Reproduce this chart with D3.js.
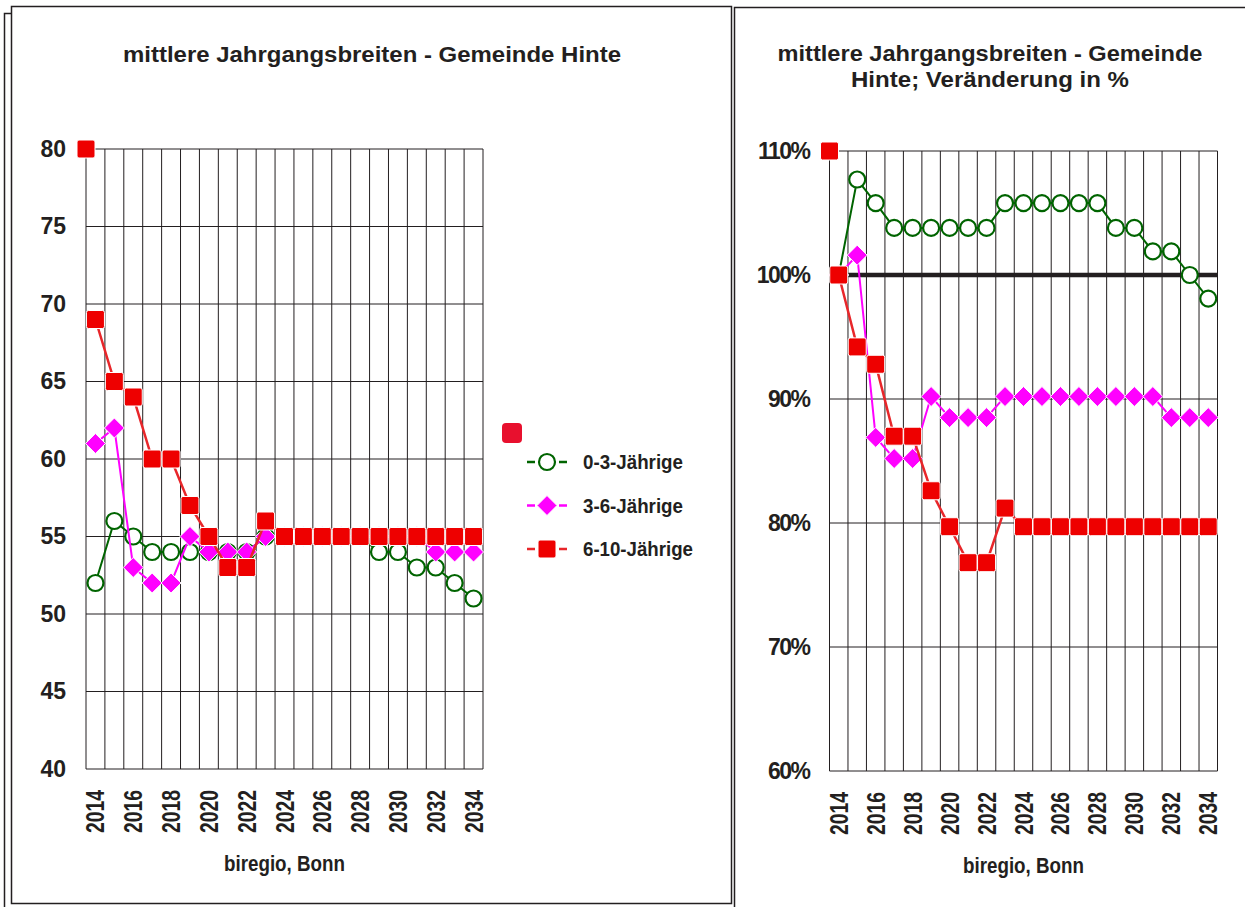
<!DOCTYPE html>
<html>
<head>
<meta charset="utf-8">
<script src="https://cdn.jsdelivr.net/npm/d3@7"></script>
<style>
  body { margin: 0; background: #fff; }
  svg text { font-family: "Liberation Sans", Arial, sans-serif; font-weight: bold; fill: #231f20; }
</style>
</head>
<body>
<svg id="chart" width="1245" height="907"></svg>
<script>
// Jahre (Kategorien)
const years = [2014, 2015, 2016, 2017, 2018, 2019, 2020, 2021, 2022, 2023, 2024,
               2025, 2026, 2027, 2028, 2029, 2030, 2031, 2032, 2033, 2034];
const yearLabels = [2014, 2016, 2018, 2020, 2022, 2024, 2026, 2028, 2030, 2032, 2034];

// mittlere Jahrgangsbreiten (Personen je Jahrgang)
const age0to3  = [52, 56, 55, 54, 54, 54, 54, 54, 54, 55, 55, 55, 55, 55, 55, 54, 54, 53, 53, 52, 51];
const age3to6  = [61, 62, 53, 52, 52, 55, 54, 54, 54, 55, 55, 55, 55, 55, 55, 55, 55, 55, 54, 54, 54];
const age6to10 = [69, 65, 64, 60, 60, 57, 55, 53, 53, 56, 55, 55, 55, 55, 55, 55, 55, 55, 55, 55, 55];

// Veränderung gegenüber 2014 in %
const pct0to3  = [100, 107.7, 105.8, 103.8, 103.8, 103.8, 103.8, 103.8, 103.8, 105.8, 105.8,
                  105.8, 105.8, 105.8, 105.8, 103.8, 103.8, 101.9, 101.9, 100, 98.1];
const pct3to6  = [100, 101.6, 86.9, 85.2, 85.2, 90.2, 88.5, 88.5, 88.5, 90.2, 90.2,
                  90.2, 90.2, 90.2, 90.2, 90.2, 90.2, 90.2, 88.5, 88.5, 88.5];
const pct6to10 = [100, 94.2, 92.8, 87.0, 87.0, 82.6, 79.7, 76.8, 76.8, 81.2, 79.7,
                  79.7, 79.7, 79.7, 79.7, 79.7, 79.7, 79.7, 79.7, 79.7, 79.7];

// Achsenmaximum-Hilfsreihe (einzelner Punkt am Achsenanfang)
const helperLeft = [80];
const helperRight = [110];

// Achsenbeschriftungen
const yTicksLeft  = [40, 45, 50, 55, 60, 65, 70, 75, 80];
const yTicksRight = [60, 70, 80, 90, 100, 110];
const seriesNames = ["0-3-Jährige", "3-6-Jährige", "6-10-Jährige"];
const titleLeft = ["mittlere Jahrgangsbreiten - Gemeinde Hinte"];
const titleRight = ["mittlere Jahrgangsbreiten - Gemeinde", "Hinte; Veränderung in %"];
const sourceLabel = "biregio, Bonn";

const GREEN = "#006400", MAGENTA = "#ff00ff", RED = "#ee0000", REDLINE = "#e8262a", INK = "#231f20";

const svg = d3.select("#chart");

// Rahmen der beiden Diagrammflächen
svg.append("path").attr("d", "M4.5,907 V13.5 H11.5").attr("fill", "none").attr("stroke", INK).attr("stroke-width", 1.5);
svg.append("rect").attr("x", 11.5).attr("y", 6.5).attr("width", 720).attr("height", 897)
  .attr("fill", "none").attr("stroke", INK).attr("stroke-width", 1.5);
svg.append("path").attr("d", "M734.5,910 V7.5 H1250").attr("fill", "none").attr("stroke", INK).attr("stroke-width", 1.5);

function marker(sel, type, size) {
  if (type === "circle") {
    sel.append("circle").attr("r", size / 2 - 1).attr("fill", "#fff")
      .attr("stroke", GREEN).attr("stroke-width", 2.2);
  } else if (type === "diamond") {
    const h = size / 2 + 1;
    sel.append("path").attr("d", `M0,${-h} L${h},0 L0,${h} L${-h},0 Z`)
      .attr("fill", MAGENTA).attr("stroke", "#fff").attr("stroke-width", 1);
  } else {
    sel.append("rect").attr("x", -size / 2).attr("y", -size / 2).attr("width", size).attr("height", size)
      .attr("rx", 2).attr("fill", RED).attr("stroke", "#fff").attr("stroke-width", 1);
  }
}

function drawChart(cfg) {
  const g = svg.append("g");
  const x = d3.scaleBand().domain(years).range([cfg.x0, cfg.x1]).padding(0);
  const cx = d => x(d) + x.bandwidth() / 2;
  const y = d3.scaleLinear().domain(cfg.yDomain).range([cfg.y1, cfg.y0]);

  // Gitternetz
  g.append("g").selectAll("line").data(cfg.yTicks).join("line")
    .attr("x1", cfg.x0).attr("x2", cfg.x1).attr("y1", d => y(d)).attr("y2", d => y(d))
    .attr("stroke", INK).attr("stroke-width", 1);
  const bounds = years.map(d => x(d)).concat([cfg.x1]);
  g.append("g").selectAll("line").data(bounds).join("line")
    .attr("x1", d => d).attr("x2", d => d).attr("y1", cfg.y0).attr("y2", cfg.y1)
    .attr("stroke", INK).attr("stroke-width", 1);

  // Bezugslinie 100 %
  if (cfg.refLine !== undefined) {
    g.append("line").attr("x1", cfg.x0).attr("x2", cfg.x1)
      .attr("y1", y(cfg.refLine)).attr("y2", y(cfg.refLine))
      .attr("stroke", INK).attr("stroke-width", 4.5);
  }

  // y-Achse
  const yAxis = d3.axisLeft(y).tickValues(cfg.yTicks).tickSize(0).tickPadding(20).tickFormat(cfg.fmt);
  const ya = g.append("g").attr("transform", `translate(${cfg.x0},0)`).call(yAxis);
  ya.select(".domain").remove();
  ya.selectAll("text").attr("font-size", 23).attr("letter-spacing", cfg.ySpacing)
    .attr("font-family", null).attr("fill", null);

  // x-Achse
  const xAxis = d3.axisBottom(x).tickValues(yearLabels).tickSize(0);
  const xa = g.append("g").attr("transform", `translate(0,${cfg.y1})`).call(xAxis);
  xa.select(".domain").remove();
  xa.selectAll("text")
    .attr("font-size", 25).attr("font-family", null).attr("fill", null)
    .attr("transform", "rotate(-90)")
    .attr("text-anchor", "end")
    .attr("x", -21).attr("y", 0).attr("dy", "0.36em")
    .attr("textLength", 43).attr("lengthAdjust", "spacingAndGlyphs");

  // Quelle
  g.append("text").attr("x", (cfg.x0 + cfg.x1) / 2).attr("y", cfg.y1 + 102)
    .attr("text-anchor", "middle").attr("font-size", 22)
    .attr("textLength", 121).attr("lengthAdjust", "spacingAndGlyphs")
    .text(sourceLabel);

  // Titel
  cfg.title.forEach((t, i) => {
    g.append("text").attr("x", cfg.titleX).attr("y", cfg.titleY + i * 26)
      .attr("text-anchor", "middle").attr("font-size", 22.5)
      .attr("textLength", cfg.titleWidths[i]).attr("lengthAdjust", "spacingAndGlyphs")
      .text(t);
  });

  // Datenreihen
  const types = ["circle", "diamond", "square"];
  const lineColors = [GREEN, MAGENTA, REDLINE];
  const lineWidths = [2, 2, 2.5];
  cfg.series.forEach((vals, s) => {
    const line = d3.line().x((d, i) => cx(years[i])).y(d => y(d));
    g.append("path").datum(vals).attr("d", line).attr("fill", "none")
      .attr("stroke", lineColors[s]).attr("stroke-width", lineWidths[s]);
    g.append("g").selectAll("g").data(vals).join("g")
      .attr("transform", (d, i) => `translate(${cx(years[i])},${y(d)})`)
      .each(function () { marker(d3.select(this), types[s], 18); });
  });

  // Hilfspunkt am Achsenanfang
  g.append("g").selectAll("rect").data(cfg.helper).join("rect")
    .attr("x", cfg.x0 - 9).attr("y", d => y(d) - 9).attr("width", 18).attr("height", 18)
    .attr("rx", 2).attr("fill", RED).attr("stroke", "#fff").attr("stroke-width", 1);
}

drawChart({
  x0: 86, x1: 483, y0: 149, y1: 769,
  yDomain: [40, 80], yTicks: yTicksLeft, fmt: d3.format("d"), ySpacing: 0,
  series: [age0to3, age3to6, age6to10], helper: helperLeft,
  title: titleLeft, titleX: 372, titleY: 62, titleWidths: [498]
});

drawChart({
  x0: 829.5, x1: 1217.5, y0: 151, y1: 771,
  yDomain: [60, 110], yTicks: yTicksRight, fmt: d => d + "%", ySpacing: -1.5,
  series: [pct0to3, pct3to6, pct6to10], helper: helperRight, refLine: 100,
  title: titleRight, titleX: 990, titleY: 61, titleWidths: [425, 278]
});

// Legende (linkes Diagramm)
const legend = svg.append("g");
legend.append("rect").attr("x", 502).attr("y", 423).attr("width", 20).attr("height", 20)
  .attr("rx", 4).attr("fill", "#e8102e");
const legendColors = [GREEN, MAGENTA, REDLINE];
const legendTypes = ["circle", "diamond", "square"];
const legendWidths = [100, 100, 110];
seriesNames.forEach((name, i) => {
  const row = legend.append("g").attr("transform", `translate(547,${462 + i * 43.5})`);
  row.append("line").attr("x1", -20).attr("x2", 20).attr("stroke", legendColors[i]).attr("stroke-width", 2.5)
    .attr("stroke-dasharray", "8,24");
  marker(row, legendTypes[i], 18);
  row.append("text").attr("x", 36).attr("dy", "0.36em").attr("font-size", 20.5)
    .attr("textLength", legendWidths[i]).attr("lengthAdjust", "spacingAndGlyphs").text(name);
});
</script>
</body>
</html>
